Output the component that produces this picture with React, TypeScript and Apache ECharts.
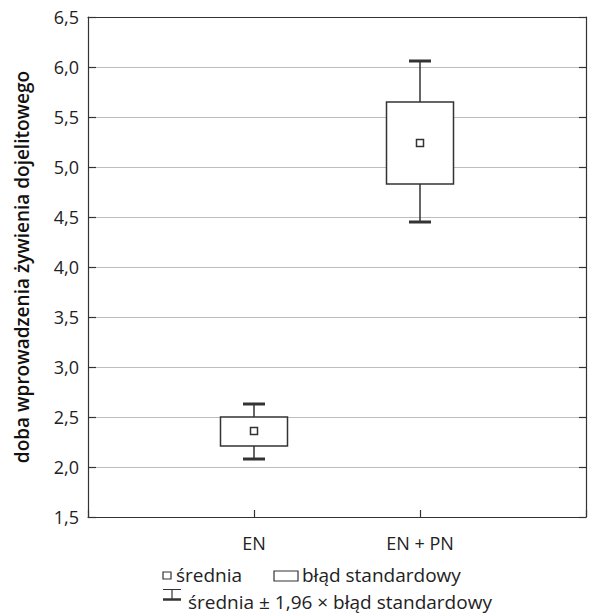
import React, { useEffect, useRef } from "react";
import * as echarts from "echarts";

const categories = ["EN", "EN + PN"];
const means = [2.36, 5.24];
const seLow = [2.21, 4.83];
const seHigh = [2.5, 5.65];
const ciLow = [2.08, 4.45];
const ciHigh = [2.63, 6.06];
const yTicks = { min: 1.5, max: 6.5, interval: 0.5 };

const legendMean = "średnia";
const legendSE = "błąd standardowy";
const legendCI = "średnia ± 1,96 × błąd standardowy";
const yTitle = "doba wprowadzenia żywienia dojelitowego";

const FONT = "'Open Sans', 'Noto Sans', sans-serif";
const DARK = "#333";

export default function App() {
  const ref = useRef<HTMLDivElement>(null);
  useEffect(() => {
    if (!ref.current) return;
    const chart = echarts.init(ref.current, null, { renderer: "svg" });
    const data = categories.map((_, i) => [i + 1, means[i], seLow[i], seHigh[i], ciLow[i], ciHigh[i]]);
    const option: any = {
      animation: false,
      backgroundColor: "#fff",
      textStyle: { fontFamily: FONT },
      grid: { left: 88, right: -1, top: 17, bottom: 97, containLabel: false },
      xAxis: [
        {
          type: "category",
          data: ["", ...categories, ""],
          boundaryGap: false,
          position: "bottom",
          axisLine: { show: true, lineStyle: { color: DARK, width: 1.2 } },
          axisTick: { show: true, inside: true, length: 7, lineStyle: { color: DARK, width: 1.2 } },
          axisLabel: { color: "#222", fontSize: 18, fontFamily: FONT, margin: 17 },
          splitLine: { show: false },
        },
        {
          type: "category",
          data: ["", ...categories, ""],
          boundaryGap: false,
          position: "top",
          axisLine: { show: true, lineStyle: { color: DARK, width: 1.2 } },
          axisTick: { show: false },
          axisLabel: { show: false },
        },
      ],
      yAxis: [
        {
          type: "value",
          min: yTicks.min,
          max: yTicks.max,
          interval: yTicks.interval,
          name: yTitle,
          nameLocation: "middle",
          nameGap: 57,
          nameRotate: 90,
          nameTextStyle: { color: "#111", fontSize: 19, fontWeight: 600, fontFamily: FONT },
          axisLine: { show: true, lineStyle: { color: DARK, width: 1.2 } },
          axisTick: { show: true, inside: true, length: 8, lineStyle: { color: DARK, width: 1.2 } },
          axisLabel: {
            color: "#222",
            fontSize: 18,
            fontFamily: FONT,
            margin: 9,
            formatter: (v: number) => v.toFixed(1).replace(".", ","),
          },
          splitLine: { show: true, lineStyle: { color: "#bdbdbd", width: 1.2 } },
        },
        {
          type: "value",
          position: "right",
          min: yTicks.min,
          max: yTicks.max,
          interval: yTicks.interval,
          axisLine: { show: true, lineStyle: { color: DARK, width: 1.2 } },
          axisTick: { show: true, inside: true, length: 7, lineStyle: { color: DARK, width: 1.2 } },
          axisLabel: { show: false },
          splitLine: { show: false },
        },
      ],
      series: [
        {
          type: "custom",
          xAxisIndex: 0,
          yAxisIndex: 0,
          data,
          renderItem: (params: any, api: any) => {
            const x = api.value(0);
            const mean = api.coord([x, api.value(1)]);
            const bl = api.coord([x, api.value(2)]);
            const bh = api.coord([x, api.value(3)]);
            const wl = api.coord([x, api.value(4)]);
            const wh = api.coord([x, api.value(5)]);
            const cx = mean[0];
            const bw = 67;
            const cw = 22;
            const sq = 7;
            const ls = { stroke: DARK, lineWidth: 1.5 };
            return {
              type: "group",
              children: [
                { type: "line", shape: { x1: cx, y1: wh[1], x2: cx, y2: bh[1] }, style: ls },
                { type: "line", shape: { x1: cx, y1: bl[1], x2: cx, y2: wl[1] }, style: ls },
                { type: "line", shape: { x1: cx - cw / 2, y1: wh[1], x2: cx + cw / 2, y2: wh[1] }, style: { stroke: DARK, lineWidth: 3 } },
                { type: "line", shape: { x1: cx - cw / 2, y1: wl[1], x2: cx + cw / 2, y2: wl[1] }, style: { stroke: DARK, lineWidth: 3 } },
                {
                  type: "rect",
                  shape: { x: cx - bw / 2, y: bh[1], width: bw, height: bl[1] - bh[1] },
                  style: { fill: "#fff", stroke: DARK, lineWidth: 1.5 },
                },
                {
                  type: "rect",
                  shape: { x: cx - sq / 2, y: mean[1] - sq / 2, width: sq, height: sq },
                  style: { fill: "#fff", stroke: DARK, lineWidth: 1.5 },
                },
              ],
            };
          },
        },
      ],
      graphic: [
        { type: "rect", shape: { x: 163, y: 572, width: 8, height: 7 }, style: { fill: "#fff", stroke: DARK, lineWidth: 1.2 } },
        { type: "text", x: 176, y: 575, style: { text: legendMean, fill: "#222", font: `19px ${FONT}`, verticalAlign: "middle", align: "left" } },
        { type: "rect", shape: { x: 274, y: 571, width: 24, height: 10 }, style: { fill: "#fff", stroke: DARK, lineWidth: 1.2 } },
        { type: "text", x: 302, y: 575, style: { text: legendSE, fill: "#222", font: `19px ${FONT}`, verticalAlign: "middle", align: "left" } },
        { type: "line", shape: { x1: 163, y1: 589.5, x2: 181, y2: 589.5 }, style: { stroke: DARK, lineWidth: 1 } },
        { type: "line", shape: { x1: 172, y1: 590, x2: 172, y2: 599 }, style: { stroke: DARK, lineWidth: 1.2 } },
        { type: "line", shape: { x1: 163, y1: 599.5, x2: 181, y2: 599.5 }, style: { stroke: DARK, lineWidth: 2.5 } },
        { type: "text", x: 188, y: 602, style: { text: legendCI, fill: "#222", font: `19px ${FONT}`, verticalAlign: "middle", align: "left" } },
      ],
    };
    chart.setOption(option);
    return () => chart.dispose();
  }, []);
  return <div ref={ref} style={{ position: "absolute", left: 0, top: 0, width: 589, height: 614 }} />;
}
